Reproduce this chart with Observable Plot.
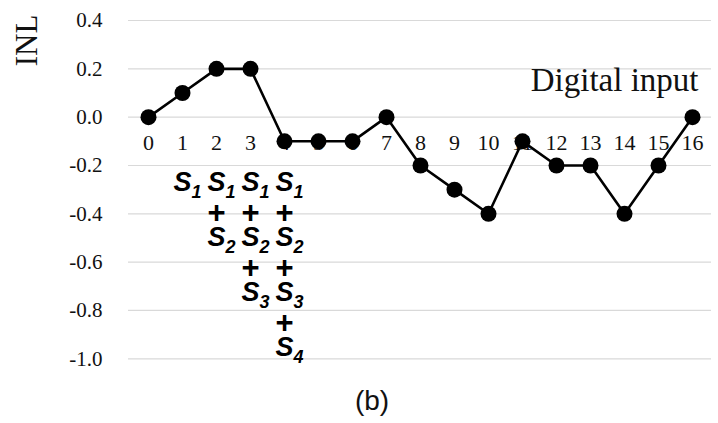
<!DOCTYPE html>
<html>
<head>
<meta charset="utf-8">
<script src="https://cdn.jsdelivr.net/npm/d3@7"></script>
<script src="https://cdn.jsdelivr.net/npm/@observablehq/plot@0.6"></script>
<style>
  html, body { margin: 0; padding: 0; background: #fff; }
</style>
</head>
<body>
<div id="chart"></div>
<script>
// Digital input codes and the measured INL at each code
const codes = [0, 1, 2, 3, 4, 5, 6, 7, 8, 9, 10, 11, 12, 13, 14, 15, 16];
const inl = [0, 0.1, 0.2, 0.2, -0.1, -0.1, -0.1, 0, -0.2, -0.3, -0.4, -0.1, -0.2, -0.2, -0.4, -0.2, 0];
const yTicks = [0.4, 0.2, 0.0, -0.2, -0.4, -0.6, -0.8, -1.0];

// Switch sums annotated under codes 1–4 (code k uses S1 + … + Sk)
const sumCodes = [1, 2, 3, 4];
const switchNames = ["S", "S", "S", "S"];
const switchIndices = ["1", "2", "3", "4"];

const serif = "Liberation Serif, Times New Roman, serif";
const sans = "Liberation Sans, Arial, sans-serif";

const points = codes.map((c, i) => ({code: c, inl: inl[i]}));

// One row per term: column = code, term = position in the sum
const terms = [];
sumCodes.forEach(c => {
  for (let j = 0; j < c; j++) terms.push({code: c, term: j, name: switchNames[j], index: switchIndices[j]});
});
const pluses = terms.filter(t => t.term > 0);

const rowTop = 162, rowStep = 55, plusOffset = -24;
const termMarks = [];
for (let j = 0; j < sumCodes.length; j++) {
  const rowTerms = terms.filter(t => t.term === j);
  termMarks.push(
    Plot.text(rowTerms, {
      x: "code", text: "name", frameAnchor: "top", lineAnchor: "middle",
      dy: rowTop + rowStep * j, fontSize: 27, fontWeight: "bold", fontStyle: "italic",
      fontFamily: sans, fill: "black"
    }),
    Plot.text(rowTerms, {
      x: "code", text: "index", frameAnchor: "top", lineAnchor: "middle",
      dx: 14, dy: rowTop + rowStep * j + 10, fontSize: 18, fontWeight: "bold", fontStyle: "italic",
      fontFamily: sans, fill: "black"
    })
  );
  const rowPlus = pluses.filter(t => t.term === j + 1);
  if (rowPlus.length) {
    termMarks.push(
      Plot.text(rowPlus, {
        x: "code", text: () => "+", frameAnchor: "top", lineAnchor: "middle",
        dy: rowTop + rowStep * (j + 1) + plusOffset, fontSize: 31, fontWeight: "bold",
        fontFamily: sans, fill: "black"
      })
    );
  }
}

const chart = Plot.plot({
  width: 718,
  height: 423,
  marginTop: 20,
  marginBottom: 64.7,
  marginLeft: 128,
  marginRight: 7,
  style: {fontFamily: serif, background: "white"},
  x: {type: "point", domain: codes, padding: 0.5, axis: null},
  y: {domain: [-1.0, 0.4], axis: null},
  marks: [
    Plot.gridY(yTicks, {stroke: "#d9d9d9", strokeOpacity: 1, strokeWidth: 1.2}),
    Plot.axisY(yTicks, {
      tickSize: 0, tickPadding: 26, fontSize: 21, fontFamily: serif,
      tickFormat: d => d.toFixed(1), label: null, fill: "#111"
    }),
    Plot.text(codes, {x: d => d, y: () => 0, text: d => String(d), dy: 26, fontSize: 22, fontFamily: serif, fill: "#111"}),
    Plot.line(points, {x: "code", y: "inl", stroke: "black", strokeWidth: 2.6}),
    Plot.dot(points, {x: "code", y: "inl", r: 8, fill: "black", stroke: "none"}),
    ...termMarks,
    Plot.text(["Digital input"], {
      frameAnchor: "top-right", textAnchor: "end", lineAnchor: "middle",
      dx: -13, dy: 60, fontSize: 33, fontFamily: serif, fill: "#111"
    }),
    Plot.text(["INL"], {
      frameAnchor: "top-left", textAnchor: "middle", lineAnchor: "middle", rotate: -90,
      dx: -101, dy: 20, fontSize: 31, fontFamily: serif, fill: "#111"
    }),
    Plot.text(["(b)"], {
      frameAnchor: "bottom", textAnchor: "middle", lineAnchor: "middle",
      dx: -48, dy: 42, fontSize: 28, fontFamily: sans, fill: "#111"
    })
  ]
});
document.getElementById("chart").append(chart);
</script>
</body>
</html>
